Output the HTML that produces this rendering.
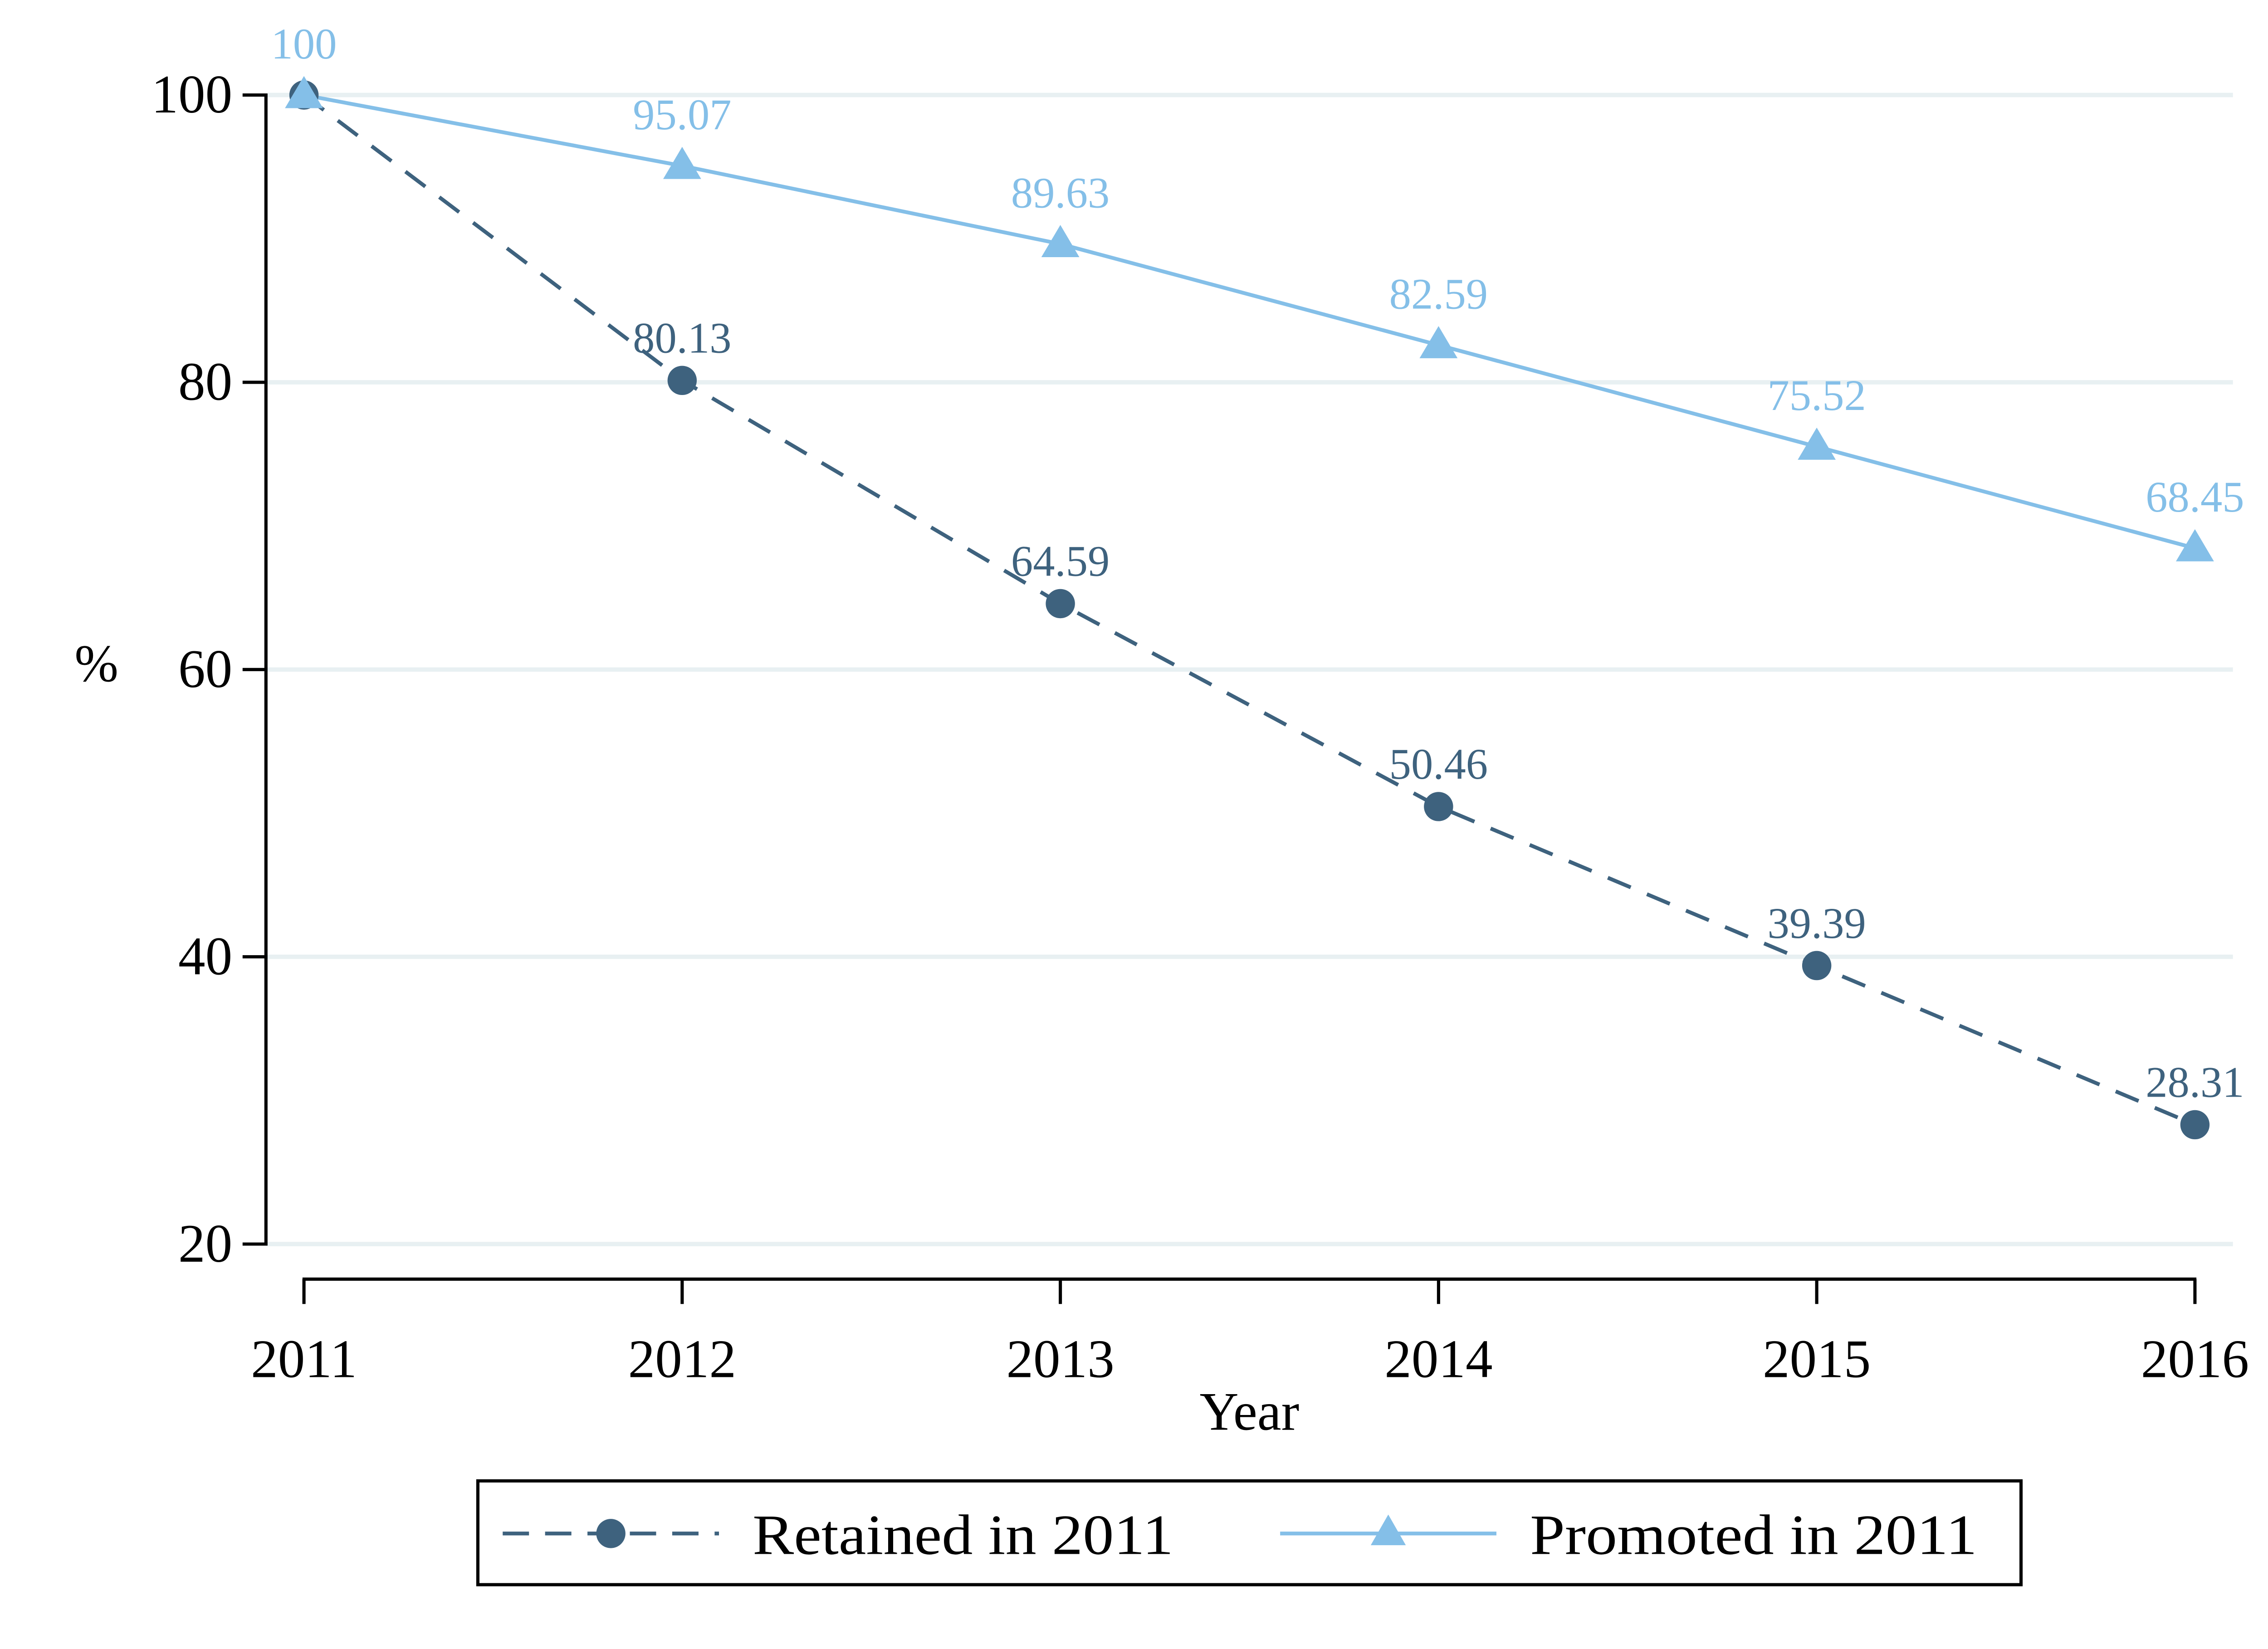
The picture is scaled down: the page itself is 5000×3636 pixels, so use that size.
<!DOCTYPE html>
<html><head><meta charset="utf-8"><style>
html,body{margin:0;padding:0;background:#fff;}
svg{display:block;}
text{font-family:"Liberation Serif",serif;}
</style></head>
<body>
<svg id="chart" width="5000" height="3636" viewBox="0 0 1552 1128" preserveAspectRatio="none" xmlns="http://www.w3.org/2000/svg">
<rect width="1552" height="1128" fill="#fff"/>
<g id="grid"></g>
<g id="axes"></g>
<g id="series"></g>
<text x="855" y="978" font-size="37" text-anchor="middle">Year</text>
<text x="66" y="466" font-size="36" text-anchor="middle">%</text>
<g>
<rect x="327" y="1013" width="1056" height="71" fill="#fff" stroke="#000" stroke-width="2.2"/>
<line x1="344" y1="1049" x2="492" y2="1049" stroke="#3e627e" stroke-width="2.6" stroke-dasharray="18,11"/>
<circle cx="418" cy="1049" r="10" fill="#3e627e"/>
<text x="515" y="1063" font-size="39" textLength="288" lengthAdjust="spacingAndGlyphs">Retained in 2011</text>
<line x1="876" y1="1049" x2="1024" y2="1049" stroke="#84bfe8" stroke-width="2.6"/>
<polygon points="950,1036 962,1057 938,1057" fill="#84bfe8"/>
<text x="1047" y="1063" font-size="39" textLength="306" lengthAdjust="spacingAndGlyphs">Promoted in 2011</text>
</g>
</svg>
<script>
const years = [2011, 2012, 2013, 2014, 2015, 2016];
const retained = [100, 80.13, 64.59, 50.46, 39.39, 28.31];
const promoted = [100, 95.07, 89.63, 82.59, 75.52, 68.45];
const yTicks = [20, 40, 60, 80, 100];

const NS = "http://www.w3.org/2000/svg";
const xS = y => 208 + (y - 2011) * (1502 - 208) / 5;
const yS = v => 65 + (100 - v) * (851 - 65) / 80;
function mk(tag, attrs, parent){ const e=document.createElementNS(NS,tag); for(const k in attrs) e.setAttribute(k,attrs[k]); parent.appendChild(e); return e; }
const grid=document.getElementById('grid'), axes=document.getElementById('axes'), ser=document.getElementById('series');

yTicks.forEach(t=>{
  const g = mk('line',{x1:183,x2:1528,y1:yS(t),y2:yS(t),stroke:'#e8f0f2','stroke-width':3},grid);
  
  
  mk('line',{x1:166,x2:183,y1:yS(t),y2:yS(t),stroke:'#000','stroke-width':2.2},axes);
  const l = mk('text',{x:159,y:yS(t)+12,'font-size':37,'text-anchor':'end'},axes);
  l.textContent=t;
  
  
});
mk('line',{x1:182,x2:182,y1:yS(100)-1,y2:yS(20)+1,stroke:'#000','stroke-width':2.2},axes);
mk('line',{x1:xS(2011)-1,x2:xS(2016)+1,y1:875,y2:875,stroke:'#000','stroke-width':2.2},axes);
years.forEach(y=>{
  mk('line',{x1:xS(y),x2:xS(y),y1:875,y2:892,stroke:'#000','stroke-width':2.2},axes);
  const l = mk('text',{x:xS(y),y:942,'font-size':37,'text-anchor':'middle'},axes);
  l.textContent=y;
  
  
});

function pts(vals){ return vals.map((v,i)=>xS(years[i])+','+yS(v)).join(' '); }
const rl = mk('polyline',{points:pts(retained),fill:'none',stroke:'#3e627e','stroke-width':2.6,'stroke-dasharray':'17,12'},ser);


const pl = mk('polyline',{points:pts(promoted),fill:'none',stroke:'#84bfe8','stroke-width':2.6},ser);



retained.forEach((v,i)=>{
  const c = mk('circle',{cx:xS(years[i]),cy:yS(v),r:10,fill:'#3e627e'},ser);
  
  
  if(i>0){
    const t = mk('text',{x:xS(years[i]),y:yS(v)-19,'font-size':30,'text-anchor':'middle',fill:'#3e627e'},ser);
    t.textContent=v.toFixed(2);
    
    
  }
});
promoted.forEach((v,i)=>{
  const x=xS(years[i]), y=yS(v);
  const p = mk('polygon',{points:`${x},${y-13} ${x+13},${y+9} ${x-13},${y+9}`,fill:'#84bfe8'},ser);
  
  
  const t = mk('text',{x:x,y:y-25,'font-size':30,'text-anchor':'middle',fill:'#84bfe8'},ser);
  t.textContent = i===0 ? '100' : v.toFixed(2);
  
  
});
</script>
</body></html>
